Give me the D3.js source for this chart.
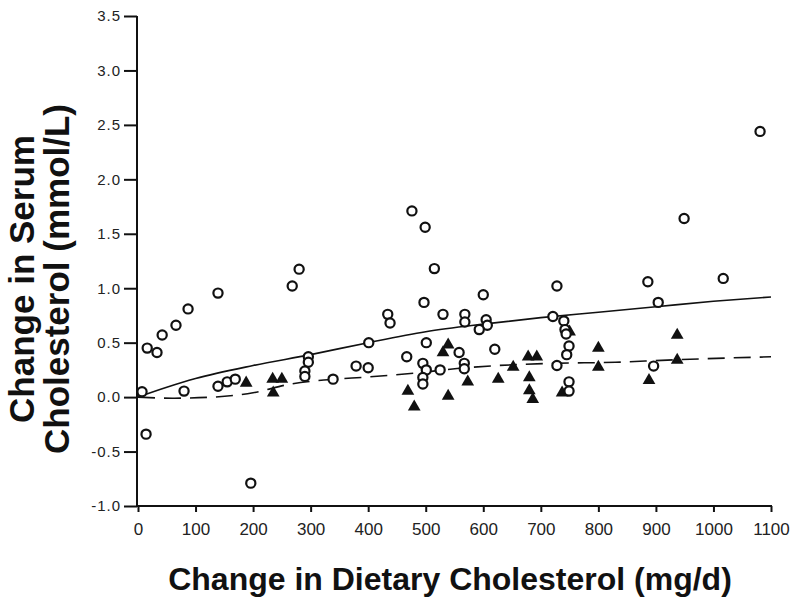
<!DOCTYPE html>
<html>
<head>
<meta charset="utf-8">
<script src="https://cdn.jsdelivr.net/npm/d3@7"></script>
<style>
  body { margin: 0; background: #fff; }
  svg { display: block; }
  .tick-label { font-family: "Liberation Sans", Arial, sans-serif; fill: #222; }
  .axis-title { font-family: "Liberation Sans", Arial, sans-serif; font-weight: bold; fill: #111; }
</style>
</head>
<body>
<script>
// open circles: change in dietary cholesterol (mg/d) vs change in serum cholesterol (mmol/L)
const circleX = [7, 14, 16, 33, 42, 66, 87, 80, 139, 139, 155, 169, 196, 268, 280, 296, 296, 290, 290,
  339, 379, 400, 401, 434, 438, 476, 499, 497, 501, 467, 495, 501, 495, 495, 525, 515, 530,
  568, 568, 600, 605, 607, 593, 558, 567, 567, 620, 728, 721, 740, 742, 744, 749, 745, 728,
  749, 749, 886, 904, 896, 949, 1017, 1081];
const circleY = [0.05, -0.34, 0.45, 0.41, 0.57, 0.66, 0.81, 0.055, 0.955, 0.10, 0.14, 0.165, -0.79, 1.02, 1.175, 0.37, 0.32, 0.24, 0.19,
  0.165, 0.285, 0.27, 0.50, 0.76, 0.68, 1.71, 1.56, 0.87, 0.50, 0.37, 0.31, 0.25, 0.18, 0.12, 0.25, 1.18, 0.76,
  0.76, 0.69, 0.94, 0.71, 0.66, 0.62, 0.41, 0.31, 0.26, 0.44, 1.02, 0.74, 0.70, 0.62, 0.58, 0.47, 0.39, 0.29,
  0.14, 0.055, 1.06, 0.87, 0.285, 1.64, 1.09, 2.44];

// filled triangles
const triX = [188, 235, 234, 250, 469, 480, 539, 530, 539, 573, 626, 652, 678, 693, 680, 680, 686, 737, 750, 800, 800, 888, 937, 937];
const triY = [0.13, 0.04, 0.165, 0.165, 0.055, -0.09, 0.48, 0.41, 0.01, 0.14, 0.165, 0.275, 0.37, 0.37, 0.18, 0.06, -0.02, 0.04, 0.60, 0.45, 0.275, 0.155, 0.57, 0.34];

// fitted curves
const solidX = [0, 50, 100, 200, 300, 400, 500, 600, 700, 800, 900, 1000, 1100];
const solidY = [0, 0.09, 0.17, 0.29, 0.39, 0.50, 0.60, 0.67, 0.73, 0.78, 0.83, 0.88, 0.92];
const dashX = [0, 60, 130, 200, 265, 330, 400, 480, 570, 720, 830, 920, 1030, 1100];
const dashY = [0, -0.01, 0.0, 0.04, 0.12, 0.16, 0.185, 0.22, 0.27, 0.31, 0.32, 0.34, 0.36, 0.37];

const xTicks = [0, 100, 200, 300, 400, 500, 600, 700, 800, 900, 1000, 1100];
const yTicks = [-1.0, -0.5, 0.0, 0.5, 1.0, 1.5, 2.0, 2.5, 3.0, 3.5];

const width = 793, height = 602;

const svg = d3.select('body').append('svg')
  .attr('width', width)
  .attr('height', height);

const x = d3.scaleLinear().domain([0, 1100]).range([138, 771]);
const y = d3.scaleLinear().domain([-1, 3.5]).range([506, 16]);

// y axis
const yAxis = svg.append('g')
  .attr('transform', 'translate(137,0)')
  .call(d3.axisLeft(y).tickValues(yTicks).tickSize(13).tickPadding(3)
    .tickFormat(d => d.toFixed(1)));
yAxis.select('.domain').attr('stroke', '#111').attr('stroke-width', 2).attr('d', `M0,${y(3.5)}V${y(-1) + 1}`);
yAxis.selectAll('.tick line').attr('stroke', '#111').attr('stroke-width', 2);
yAxis.selectAll('.tick text').attr('class', 'tick-label').attr('font-size', 15).attr('letter-spacing', 1);

// x axis
const xAxis = svg.append('g')
  .attr('transform', 'translate(0,506)')
  .call(d3.axisBottom(x).tickValues(xTicks).tickSize(6).tickPadding(11).tickFormat(d => String(d)));
xAxis.select('.domain').attr('stroke', '#111').attr('stroke-width', 2).attr('d', `M${x(0) - 1},0H${x(1100) + 1}`);
xAxis.selectAll('.tick line').attr('stroke', '#111').attr('stroke-width', 2);
xAxis.selectAll('.tick text').attr('class', 'tick-label').attr('font-size', 17);

// curves
const line = d3.line().x(d => x(d[0])).y(d => y(d[1])).curve(d3.curveMonotoneX);

svg.append('path')
  .datum(solidX.map((v, i) => [v, solidY[i]]))
  .attr('d', line)
  .attr('fill', 'none')
  .attr('stroke', '#111')
  .attr('stroke-width', 1.6);

svg.append('path')
  .datum(dashX.map((v, i) => [v, dashY[i]]))
  .attr('d', line)
  .attr('fill', 'none')
  .attr('stroke', '#111')
  .attr('stroke-width', 1.6)
  .attr('stroke-dasharray', '17,9');

// triangles
svg.append('g').selectAll('path')
  .data(triX.map((v, i) => [v, triY[i]]))
  .join('path')
  .attr('d', d3.symbol(d3.symbolTriangle, 70))
  .attr('transform', d => `translate(${x(d[0])},${y(d[1])})`)
  .attr('fill', '#111');

// circles
svg.append('g').selectAll('circle')
  .data(circleX.map((v, i) => [v, circleY[i]]))
  .join('circle')
  .attr('cx', d => x(d[0]))
  .attr('cy', d => y(d[1]))
  .attr('r', 4.6)
  .attr('fill', '#fff')
  .attr('stroke', '#111')
  .attr('stroke-width', 2.2);

// titles
svg.append('text')
  .attr('class', 'axis-title')
  .attr('x', 450)
  .attr('y', 590)
  .attr('text-anchor', 'middle')
  .attr('font-size', 32)
  .text('Change in Dietary Cholesterol (mg/d)');

const yt = svg.append('text')
  .attr('class', 'axis-title')
  .attr('transform', 'translate(0,279) rotate(-90)')
  .attr('text-anchor', 'middle')
  .attr('font-size', 35);
yt.append('tspan').attr('x', 0).attr('y', 34).text('Change in Serum');
yt.append('tspan').attr('x', 0).attr('y', 69).text('Cholesterol (mmol/L)');
</script>
</body>
</html>
